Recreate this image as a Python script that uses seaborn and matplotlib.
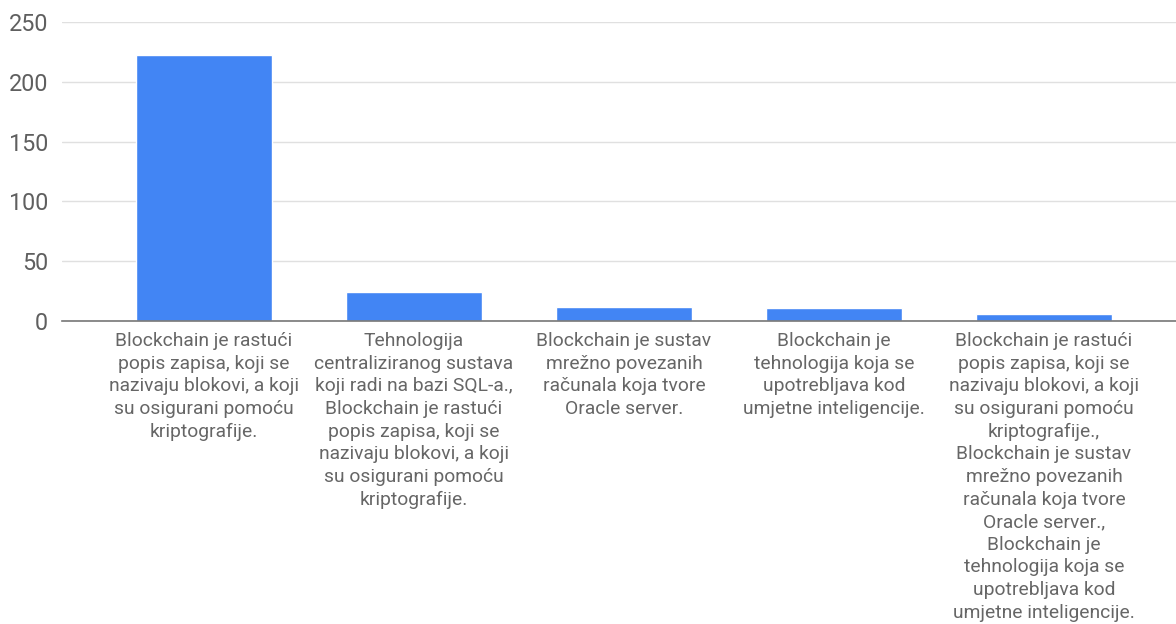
import pandas as pd
import seaborn as sns
from matplotlib import pyplot as plt

answers = [
    "Blockchain je rastući\npopis zapisa, koji se\nnazivaju blokovi, a koji\nsu osigurani pomoću\nkriptografije.",
    "Tehnologija\ncentraliziranog sustava\nkoji radi na bazi SQL-a.,\nBlockchain je rastući\npopis zapisa, koji se\nnazivaju blokovi, a koji\nsu osigurani pomoću\nkriptografije.",
    "Blockchain je sustav\nmrežno povezanih\nračunala koja tvore\nOracle server.",
    "Blockchain je\ntehnologija koja se\nupotrebljava kod\numjetne inteligencije.",
    "Blockchain je rastući\npopis zapisa, koji se\nnazivaju blokovi, a koji\nsu osigurani pomoću\nkriptografije.,\nBlockchain je sustav\nmrežno povezanih\nračunala koja tvore\nOracle server.,\nBlockchain je\ntehnologija koja se\nupotrebljava kod\numjetne inteligencije.",
]
counts = [222, 24, 12, 11, 6]
yticks = [0, 50, 100, 150, 200, 250]

sns.set_style("white")
plt.rcParams['font.family'] = ['Roboto', 'DejaVu Sans']

df = pd.DataFrame({'odgovor': [str(i) for i in range(len(answers))], 'broj': counts})

fig = plt.figure(figsize=(11.76, 6.24), dpi=100)
ax = fig.add_axes([62 / 1176, 1 - 321 / 624, 1 - 62 / 1176, 299 / 624])
sns.barplot(data=df, x='odgovor', y='broj', color='#4285f4', width=0.65, saturation=1, ax=ax)

ax.set_xlim(-0.676, 4.629)
ax.set_ylim(0, 250)
ax.set_yticks(yticks)
ax.set_yticklabels([str(t) for t in yticks], fontsize=16.8, color='#5f5f5f')
ax.set_xticks(range(len(answers)))
ax.set_xticklabels(answers, fontsize=13.9, color='#666666', linespacing=1.33)
ax.tick_params(axis='y', length=0, pad=10)
ax.tick_params(axis='x', length=0, pad=8)
ax.set_xlabel('')
ax.set_ylabel('')
ax.grid(axis='y', color='#e0e0e0', linewidth=1)
ax.set_axisbelow(True)
for s in ['top', 'right', 'left']:
    ax.spines[s].set_visible(False)
ax.spines['bottom'].set_color('#777777')
ax.spines['bottom'].set_linewidth(1.2)

fig.savefig('out.png', dpi=100)
